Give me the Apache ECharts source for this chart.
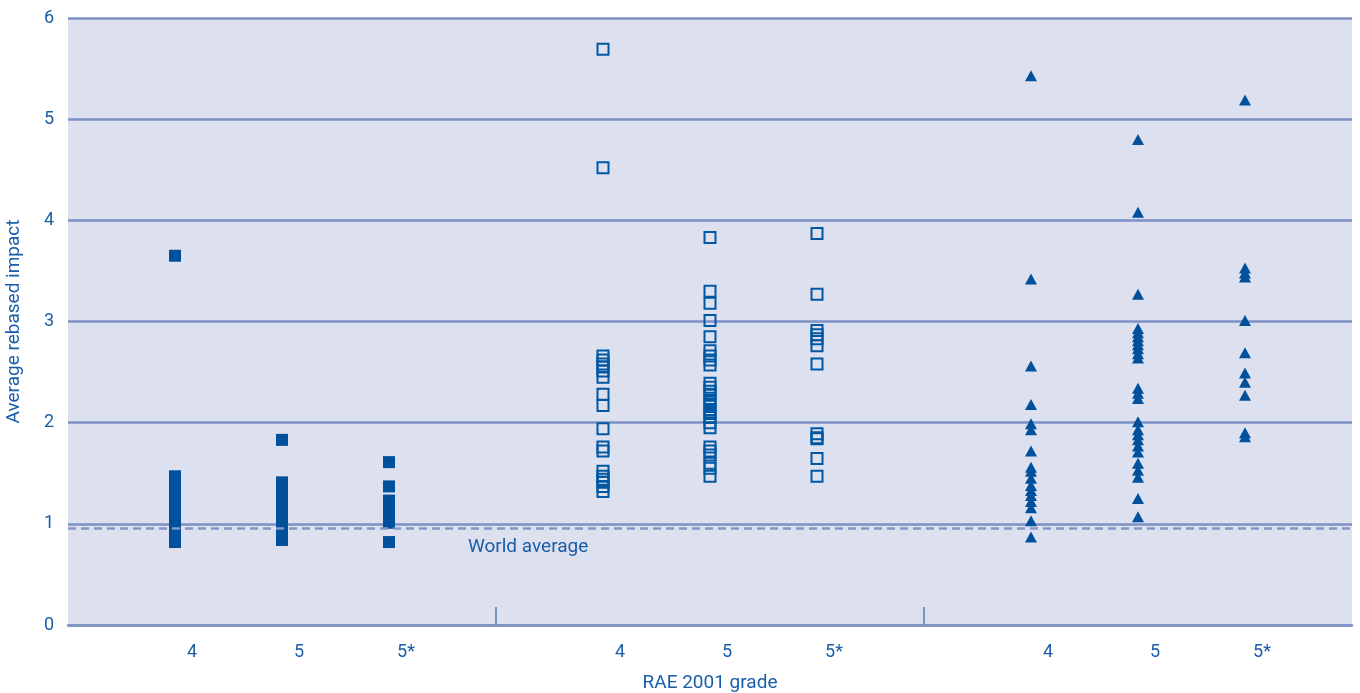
<!DOCTYPE html>
<html>
<head>
<meta charset="utf-8">
<script src="https://cdn.jsdelivr.net/npm/echarts@6/dist/echarts.min.js"></script>
<style>
html,body{margin:0;padding:0;background:#fff;overflow:hidden;}
#chart{width:1360px;height:693px;}
</style>
</head>
<body>
<div id="chart"></div>
<script>
// x positions of the nine grade columns (gap slot between groups)
const gradePositions = [1, 2, 3, 5, 6, 7, 9, 10, 11];
const gradeLabels = ['4', '5', '5*', '4', '5', '5*', '4', '5', '5*'];
const groupSeparators = [4, 8];
const yTicks = [0, 1, 2, 3, 4, 5, 6];
const worldAverage = 0.96;

// Group 1 (filled squares)
const g1_4 = [3.65, 1.47, 1.42, 1.38, 1.33, 1.28, 1.24, 1.2, 1.15, 1.1, 1.05, 1.0, 0.96, 0.93, 0.82];
const g1_5 = [1.83, 1.41, 1.36, 1.3, 1.25, 1.2, 1.15, 1.1, 1.05, 1.0, 0.95, 0.9, 0.84];
const g1_5s = [1.61, 1.37, 1.23, 1.17, 1.11, 1.05, 1.01, 0.82];

// Group 2 (hollow squares)
const g2_4 = [5.69, 4.52, 2.66, 2.62, 2.58, 2.55, 2.51, 2.45, 2.28, 2.17, 1.94, 1.76, 1.72, 1.52, 1.47, 1.44, 1.41, 1.37, 1.32];
const g2_5 = [3.83, 3.3, 3.18, 3.01, 2.85, 2.71, 2.66, 2.62, 2.57, 2.39, 2.35, 2.31, 2.27, 2.22, 2.18, 2.13, 2.09, 2.05, 2.0, 1.95, 1.76, 1.72, 1.68, 1.6, 1.55, 1.47];
const g2_5s = [3.87, 3.27, 2.91, 2.87, 2.83, 2.76, 2.58, 1.89, 1.85, 1.84, 1.645, 1.47];

// Group 3 (filled triangles)
const g3_4 = [5.43, 3.42, 2.56, 2.18, 1.99, 1.93, 1.72, 1.56, 1.52, 1.45, 1.38, 1.33, 1.28, 1.22, 1.16, 1.03, 0.87];
const g3_5 = [4.8, 4.08, 3.27, 2.93, 2.89, 2.85, 2.81, 2.77, 2.73, 2.68, 2.64, 2.34, 2.29, 2.24, 2.01, 1.93, 1.88, 1.83, 1.77, 1.71, 1.6, 1.53, 1.46, 1.25, 1.07];
const g3_5s = [5.19, 3.53, 3.48, 3.44, 3.01, 2.69, 2.49, 2.4, 2.27, 1.9, 1.86];

const groups = [
  {cols: [g1_4, g1_5, g1_5s], start: 0},
  {cols: [g2_4, g2_5, g2_5s], start: 3},
  {cols: [g3_4, g3_5, g3_5s], start: 6}
];
function pts(gi) {
  const out = [];
  groups[gi].cols.forEach((col, ci) => {
    const x = gradePositions[groups[gi].start + ci];
    col.forEach(v => out.push([x, v]));
  });
  return out;
}

const textColor = '#1a5ea8';
const markColor = '#00509b';
const gridColor = '#7d91c5';
const font = 'Roboto, "Noto Sans", sans-serif';

const chart = echarts.init(document.getElementById('chart'), null, {width: 1360, height: 693});
chart.setOption({
  animation: false,
  backgroundColor: '#ffffff',
  grid: {
    left: 68, right: 8, top: 18, bottom: 68,
    containLabel: false, outerBoundsMode: 'none',
    show: true, backgroundColor: '#dde0ef', borderWidth: 0
  },
  xAxis: {
    type: 'value', min: 0, max: 12, interval: 1,
    name: 'RAE 2001 grade', nameLocation: 'middle', nameGap: 49,
    nameTextStyle: {color: textColor, fontSize: 19, fontFamily: font},
    axisLine: {show: true, lineStyle: {color: gridColor, width: 2.5}},
    axisTick: {show: true, inside: true, length: 18, customValues: groupSeparators,
      lineStyle: {color: gridColor, width: 2}},
    axisLabel: {
      customValues: gradePositions,
      formatter: function (v) {
        const i = gradePositions.indexOf(Math.round(v));
        return i >= 0 ? gradeLabels[i] : '';
      },
      color: textColor, fontSize: 18, fontFamily: font, margin: 18,
      padding: [0, 0, 0, 34]
    },
    splitLine: {show: false}
  },
  yAxis: {
    type: 'value', min: 0, max: 6, interval: 1,
    name: 'Average rebased impact', nameLocation: 'middle', nameGap: 44,
    nameTextStyle: {color: textColor, fontSize: 19, fontFamily: font},
    axisLine: {show: false}, axisTick: {show: false},
    axisLabel: {color: textColor, fontSize: 18, fontFamily: font, margin: 14,
      formatter: v => yTicks.indexOf(v) >= 0 ? String(v) : ''},
    splitLine: {show: true, lineStyle: {color: gridColor, width: 2.5}}
  },
  series: [
    {
      type: 'scatter', name: 'Group 1', data: pts(0),
      symbol: 'rect', symbolSize: 12,
      itemStyle: {color: markColor, opacity: 1},
      z: 3,
      markLine: {
        silent: true, symbol: 'none',
        lineStyle: {color: '#8596c8', width: 2.5, type: [8, 5]},
        label: {show: false},
        data: [{yAxis: worldAverage}]
      },
      markPoint: {
        silent: true, symbol: 'circle', symbolSize: 0,
        label: {show: true, formatter: 'World average', color: textColor,
          fontSize: 19, fontFamily: font, position: 'inside', offset: [0, 19]},
        data: [{coord: [4.3, worldAverage]}]
      }
    },
    {
      type: 'scatter', name: 'Group 2', data: pts(1),
      symbol: 'rect', symbolSize: 11,
      itemStyle: {color: 'rgba(0,0,0,0)', borderColor: '#0057a3', borderWidth: 2, opacity: 1},
      z: 3
    },
    {
      type: 'scatter', name: 'Group 3', data: pts(2),
      symbol: 'triangle', symbolSize: [12, 11],
      itemStyle: {color: markColor, opacity: 1},
      z: 3
    }
  ]
});
</script>
</body>
</html>
